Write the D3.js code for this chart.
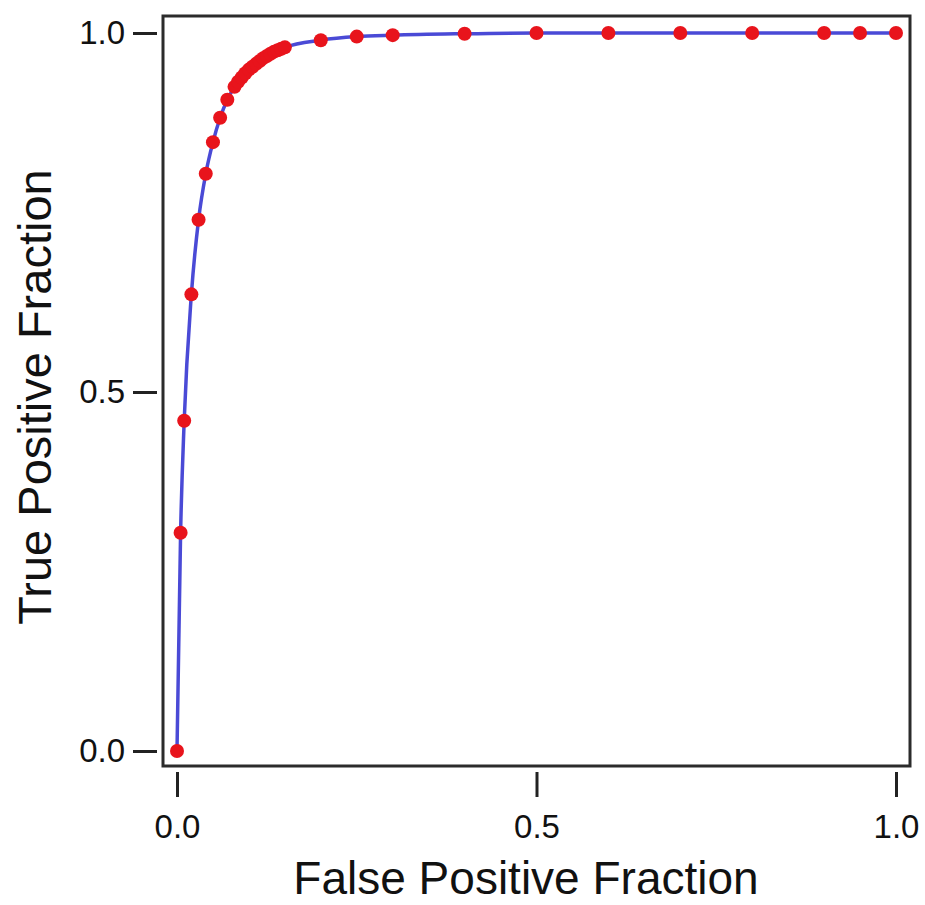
<!DOCTYPE html>
<html>
<head>
<meta charset="utf-8">
<script src="https://cdn.jsdelivr.net/npm/d3@7"></script>
<style>
  html, body { margin: 0; padding: 0; background: #fff; }
  text { font-family: "Liberation Sans", Arial, sans-serif; fill: #111; }
</style>
</head>
<body>
<div id="chart"></div>
<script>
// ROC: FPF vs TPF
const fpf = [0, 0.005, 0.01, 0.02, 0.03, 0.04, 0.05, 0.06, 0.07,
             0.08, 0.085, 0.09, 0.095, 0.10, 0.105, 0.11, 0.115, 0.12, 0.125, 0.13, 0.135, 0.14, 0.145, 0.15,
             0.2, 0.25, 0.3, 0.4, 0.5, 0.6, 0.7, 0.8, 0.9, 0.95, 1.0];
const tpf = [0, 0.304, 0.46, 0.636, 0.74, 0.804, 0.848, 0.882, 0.907,
             0.925, 0.932, 0.938, 0.944, 0.949, 0.953, 0.957, 0.961, 0.965, 0.968, 0.971, 0.974, 0.976, 0.978, 0.980,
             0.990, 0.995, 0.997, 0.999, 1.0, 1.0, 1.0, 1.0, 1.0, 1.0, 1.0];
const xTicks = [0, 0.5, 1.0];
const yTicks = [0, 0.5, 1.0];

const W = 925, H = 905;
const svg = d3.select('#chart').append('svg')
  .attr('width', W).attr('height', H);

const x = d3.scaleLinear().domain([0, 1]).range([177, 896]);
const y = d3.scaleLinear().domain([0, 1]).range([751, 33]);

// frame
svg.append('rect')
  .attr('x', 163).attr('y', 16)
  .attr('width', 747).attr('height', 750)
  .attr('fill', 'none').attr('stroke', '#2b2b2b').attr('stroke-width', 3);

const fmt = d3.format('.1f');

const xAxis = svg.append('g')
  .attr('transform', 'translate(0,772)')
  .call(d3.axisBottom(x).tickValues(xTicks).tickFormat(fmt).tickSize(25).tickPadding(18));

const yAxis = svg.append('g')
  .attr('transform', 'translate(157,0)')
  .call(d3.axisLeft(y).tickValues(yTicks).tickFormat(fmt).tickSize(24).tickPadding(8));

[xAxis, yAxis].forEach(g => {
  g.select('.domain').remove();
  g.selectAll('.tick line').attr('stroke', '#222').attr('stroke-width', 3);
  g.selectAll('.tick text')
    .style('font-family', '"Liberation Sans", Arial, sans-serif')
    .style('font-size', '33px').attr('fill', '#111');
});

// line
const line = d3.line()
  .x((d, i) => x(fpf[i]))
  .y(d => y(d))
  .curve(d3.curveMonotoneX);

svg.append('path')
  .datum(tpf)
  .attr('d', line)
  .attr('fill', 'none')
  .attr('stroke', '#4a4ad6')
  .attr('stroke-width', 3.5);

// points
svg.append('g')
  .selectAll('circle')
  .data(tpf)
  .join('circle')
    .attr('cx', (d, i) => x(fpf[i]))
    .attr('cy', d => y(d))
    .attr('r', 7)
    .attr('fill', '#e8141c');

// axis titles
svg.append('text')
  .attr('x', 526).attr('y', 894)
  .attr('text-anchor', 'middle')
  .style('font-size', '46px')
  .text('False Positive Fraction');

svg.append('text')
  .attr('transform', 'translate(51,397) rotate(-90)')
  .attr('text-anchor', 'middle')
  .style('font-size', '47px')
  .text('True Positive Fraction');
</script>
</body>
</html>
